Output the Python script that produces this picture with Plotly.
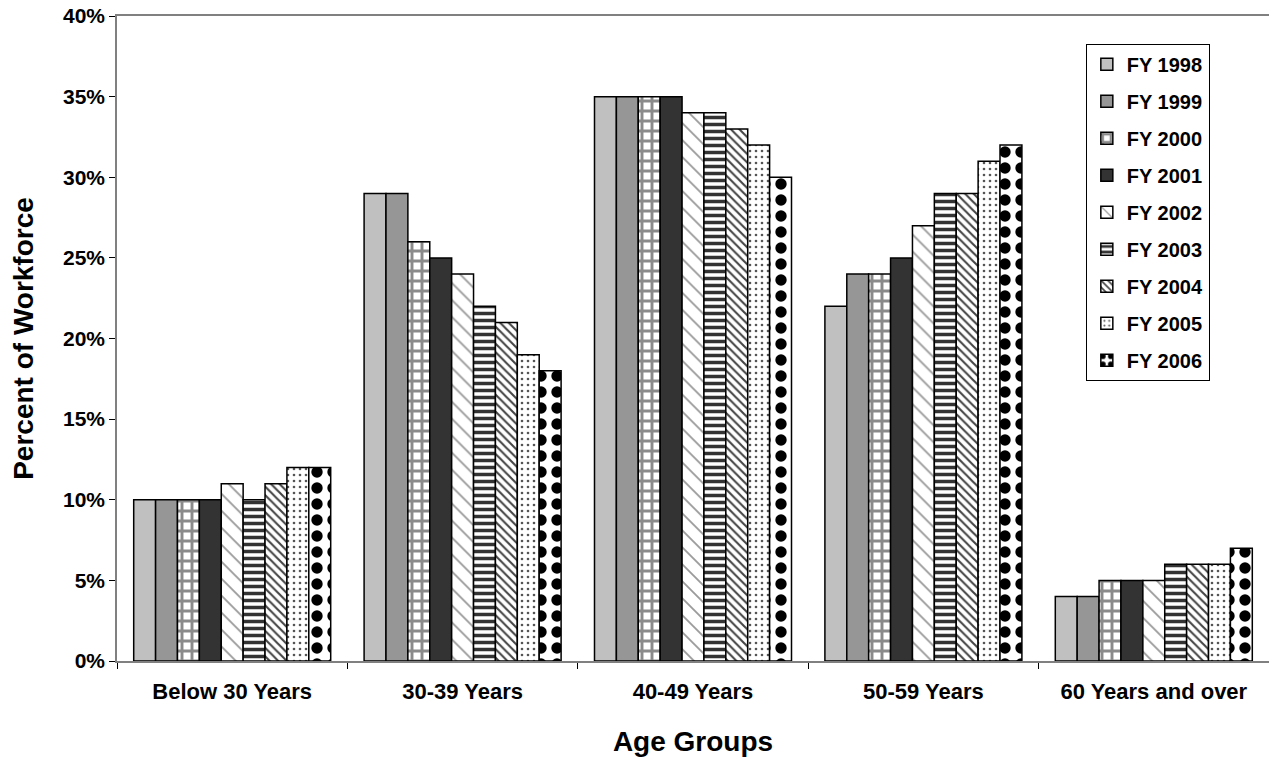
import plotly.graph_objects as go

categories = ["Below 30 Years", "30-39 Years", "40-49 Years", "50-59 Years", "60 Years and over"]
series_names = ["FY 1998", "FY 1999", "FY 2000", "FY 2001", "FY 2002",
                "FY 2003", "FY 2004", "FY 2005", "FY 2006"]
fy1998 = [10, 29, 35, 22, 4]
fy1999 = [10, 29, 35, 24, 4]
fy2000 = [10, 26, 35, 24, 5]
fy2001 = [10, 25, 35, 25, 5]
fy2002 = [11, 24, 34, 27, 5]
fy2003 = [10, 22, 34, 29, 6]
fy2004 = [11, 21, 33, 29, 6]
fy2005 = [12, 19, 32, 31, 6]
fy2006 = [12, 18, 30, 32, 7]
values = [fy1998, fy1999, fy2000, fy2001, fy2002, fy2003, fy2004, fy2005, fy2006]

styles = [
    dict(color="#c0c0c0", pattern=dict(shape="")),
    dict(color="#969696", pattern=dict(shape="")),
    dict(color="#ffffff", pattern=dict(shape="+", fgcolor="#8a8a8a", bgcolor="#ffffff", size=10, solidity=0.5, fillmode="replace")),
    dict(color="#333333", pattern=dict(shape="")),
    dict(color="#ffffff", pattern=dict(shape="\\", fgcolor="#9a9a9a", bgcolor="#ffffff", size=12, solidity=0.15, fillmode="replace")),
    dict(color="#ffffff", pattern=dict(shape="-", fgcolor="#333333", bgcolor="#ffffff", size=7, solidity=0.5, fillmode="replace")),
    dict(color="#ffffff", pattern=dict(shape="\\", fgcolor="#444444", bgcolor="#ffffff", size=6, solidity=0.35, fillmode="replace")),
    dict(color="#ffffff", pattern=dict(shape=".", fgcolor="#555555", bgcolor="#ffffff", size=6, solidity=0.15, fillmode="replace")),
    dict(color="#ffffff", pattern=dict(shape=".", fgcolor="#000000", bgcolor="#ffffff", size=16, solidity=0.4, fillmode="replace")),
]

FONT = "Liberation Sans, Arial, sans-serif"

fig = go.Figure()
for i, (name, vals) in enumerate(zip(series_names, values)):
    st = styles[i]
    fig.add_trace(go.Bar(
        x=categories, y=vals, name=name, legendgroup=name,
        marker=dict(color=st["color"], pattern=st["pattern"],
                    line=dict(color="#000000", width=1.5)),
    ))

fig.update_layout(
    width=1269, height=764,
    barmode="group", bargap=0.145, bargroupgap=0,
    plot_bgcolor="#ffffff", paper_bgcolor="#ffffff",
    margin=dict(l=117, r=0, t=16, b=103, autoexpand=False),
    font=dict(family=FONT, color="#000000"),
    legend=dict(
        x=0.841, y=0.957, xanchor="left", yanchor="top",
        bordercolor="#000000", borderwidth=1, bgcolor="#ffffff",
        font=dict(family=FONT, size=20, color="#000000", weight="bold"),
        tracegroupgap=8, itemwidth=30,
    ),
    showlegend=True,
)
fig.update_xaxes(
    type="category",
    showline=True, linecolor="#808080", linewidth=1.5, mirror=True,
    ticks="outside", tickson="boundaries", ticklen=6, tickcolor="#000000",
    ticklabelstandoff=10,
    tickfont=dict(family=FONT, size=22, weight="bold"),
    title=dict(text="<b>Age Groups</b>", font=dict(family=FONT, size=28), standoff=28),
    showgrid=False, automargin=False,
)
fig.update_yaxes(
    range=[0, 40], dtick=5, ticksuffix="%",
    showline=True, linecolor="#808080", linewidth=1.5,
    ticks="outside", ticklen=6, tickcolor="#000000",
    tickfont=dict(family=FONT, size=21, weight="bold"),
    title=dict(text="<b>Percent of Workforce</b>", font=dict(family=FONT, size=28), standoff=21),
    showgrid=False, zeroline=False, automargin=False,
)

# remove the default page margin so the figure fills the window exactly
fig.write_html(
    "out.html",
    config={"displayModeBar": False},
    post_script="document.body.style.margin='0';document.body.style.overflow='hidden';",
)
